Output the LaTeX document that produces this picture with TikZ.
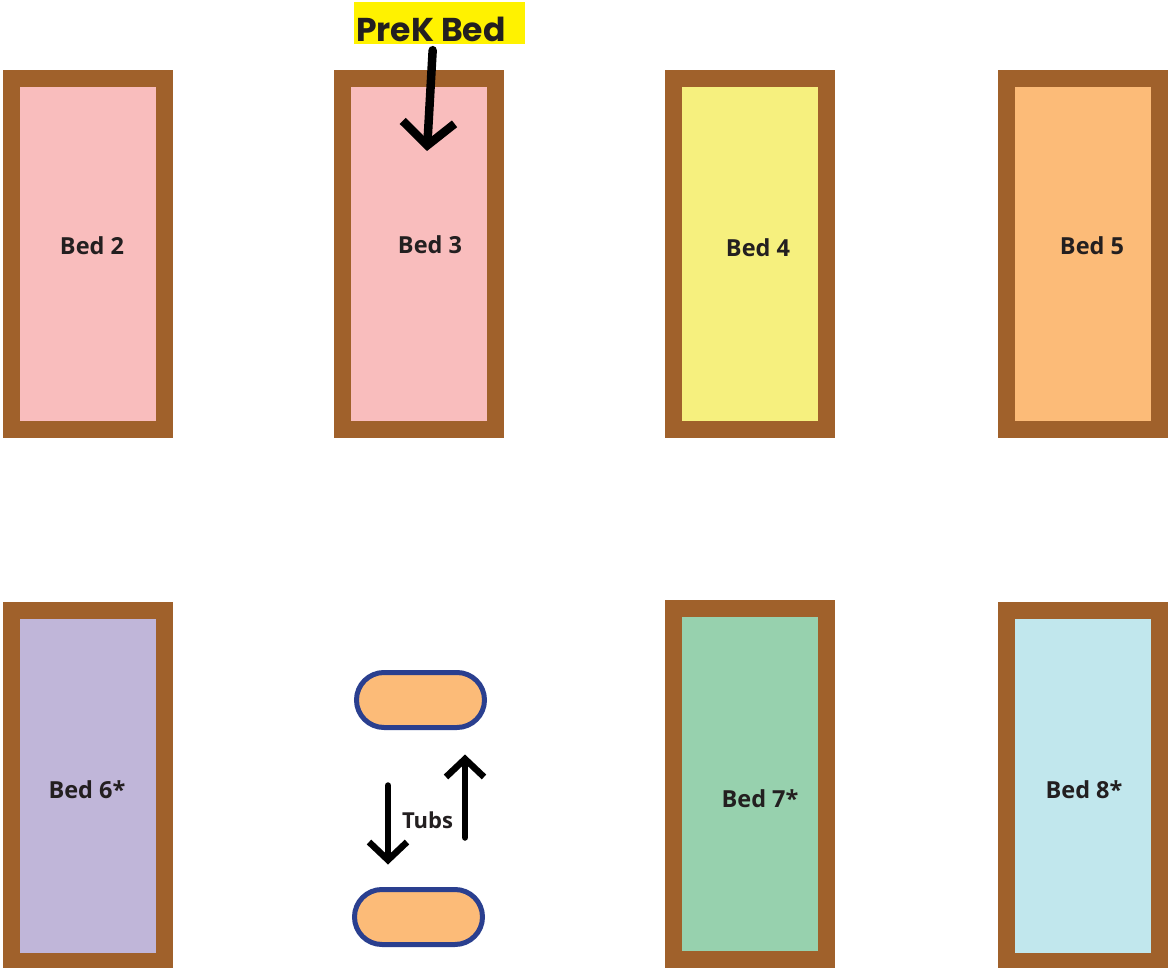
\documentclass[tikz,border=0pt]{standalone}
\usepackage{fontspec}
\setmainfont{Open Sans}
\newfontfamily\prekfont{Poppins}
\usetikzlibrary{positioning}
\usetikzlibrary{arrows.meta}

\definecolor{bedframe}{HTML}{A0612B}
\definecolor{bedpink}{HTML}{F9BDBD}
\definecolor{bedyellow}{HTML}{F6F07E}
\definecolor{bedorange}{HTML}{FCBB78}
\definecolor{bedpurple}{HTML}{C0B6D9}
\definecolor{bedgreen}{HTML}{97D1AE}
\definecolor{bedblue}{HTML}{C1E7ED}
\definecolor{tubline}{HTML}{2A3F8F}
\definecolor{prekyellow}{HTML}{FFF200}
\definecolor{labeltext}{HTML}{231F20}

\begin{document}
\begin{tikzpicture}[x=1pt,y=1pt]

        \useasboundingbox (0,0) rectangle (1168,-968);

        \tikzstyle{bed} = [rectangle, draw=bedframe, line width=17pt, minimum width=153pt,
            minimum height=351pt, inner sep=0pt, outer sep=0pt]
        \tikzstyle{bedlabel} = [font=\bfseries\fontsize{23.5}{26}\selectfont, text=labeltext]
        \tikzstyle{tub} = [rectangle, rounded corners=27.5pt, draw=tubline, line width=5pt,
            fill=bedorange, minimum width=128pt, minimum height=55pt, inner sep=0pt, outer sep=0pt]
        \tikzstyle{bigarrow} = [-{Straight Barb[length=23pt,width=52pt]}, line width=8.5pt,
            line cap=round, line join=round]
        \tikzstyle{tubarrow} = [-{Straight Barb[length=18pt,width=38pt]}, line width=6.5pt,
            line cap=round, line join=round]

        % beds, top row
        \node[bed, fill=bedpink]                    (bed2)    at (88,-254) {};
        \node[bed, fill=bedpink, right=178pt of bed2]   (bed3)    {};
        \node[bed, fill=bedyellow, right=178pt of bed3] (bed4)    {};
        \node[bed, fill=bedorange, right=180pt of bed4] (bed5)    {};

        % beds, bottom row
        \node[bed, fill=bedpurple, below=181pt of bed2] (bed6)    {};
        \node[bed, fill=bedgreen, below=179pt of bed4]  (bed7)    {};
        \node[bed, fill=bedblue, below=181pt of bed5]   (bed8)    {};

        \node[bedlabel] (lbl2) at (92,-246)   {Bed 2};
        \node[bedlabel] (lbl3) at (430,-245)  {Bed 3};
        \node[bedlabel] (lbl4) at (758,-248)  {Bed 4};
        \node[bedlabel] (lbl5) at (1092,-246) {Bed 5};
        \node[bedlabel] (lbl6) at (87,-790)   {Bed 6*};
        \node[bedlabel] (lbl7) at (760,-799)  {Bed 7*};
        \node[bedlabel] (lbl8) at (1084,-790) {Bed 8*};

        % prek label
        \node[fill=prekyellow, minimum width=171pt, minimum height=42pt, inner sep=0pt] (prek) at (439.5,-23) {};
        \node[anchor=base west, inner sep=0pt, text=labeltext,
            font=\prekfont\bfseries\fontsize{33}{36}\selectfont] (prektxt) at (356,-42) {PreK Bed};
        \coordinate (prektip) at (427,-151);

        % tubs
        \node[tub] (tubtop)    at (420.5,-700) {};
        \node[tub] (tubbottom) at (418.5,-917) {};
        \node[bedlabel, font=\bfseries\fontsize{22}{24}\selectfont] (tubs) at (427.5,-820) {Tubs};

        \draw[bigarrow, shorten <=6pt] ([xshift=-6.5pt]prek.south) -- (prektip);
        \draw[tubarrow, shorten <=58pt, shorten >=25pt] ([xshift=-32.5pt]tubtop.south) -- ([xshift=-30.5pt]tubbottom.north);
        \draw[tubarrow, shorten <=52pt, shorten >=27pt] ([xshift=46.5pt]tubbottom.north) -- ([xshift=44.5pt]tubtop.south);

      \end{tikzpicture}
\end{document}
